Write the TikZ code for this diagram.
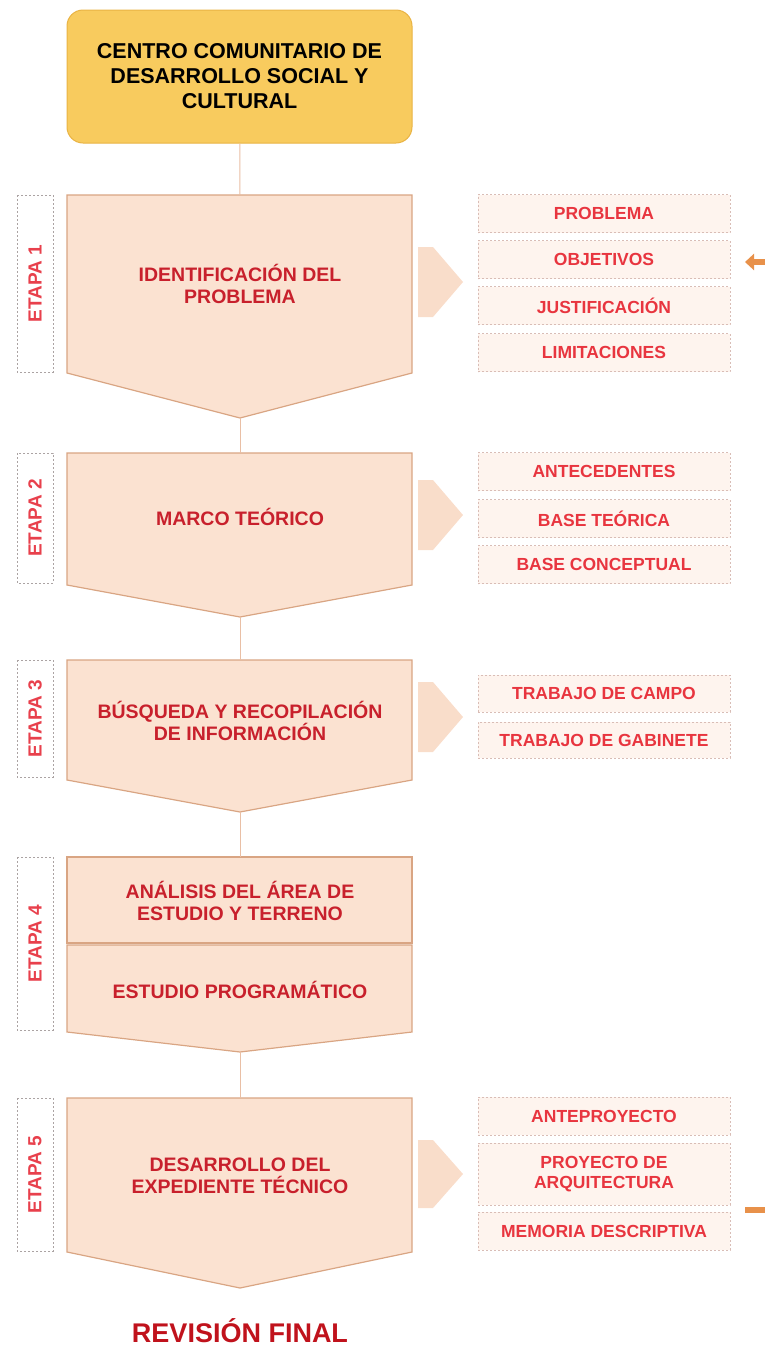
\documentclass[tikz,border=0pt]{standalone}
\usepackage{fontspec}
\setmainfont{Liberation Sans}
\usetikzlibrary{arrows.meta}

\definecolor{titlefill}{HTML}{F8CB5E}
\definecolor{titleedge}{HTML}{E9B343}
\definecolor{stagefill}{HTML}{FBE2D1}
\definecolor{stageedge}{HTML}{D9A583}
\definecolor{chevfill}{HTML}{F9DDCA}
\definecolor{itemfill}{HTML}{FEF4EE}
\definecolor{itemedge}{HTML}{D9BDB6}
\definecolor{etapaedge}{HTML}{ABA3A3}
\definecolor{stagered}{HTML}{C8202C}
\definecolor{itemred}{HTML}{E8353F}
\definecolor{etapared}{HTML}{E8404C}
\definecolor{linkcol}{HTML}{E9BFA5}
\definecolor{finalred}{HTML}{C0121C}
\definecolor{fbcol}{HTML}{E8914A}

\begin{document}
\begin{tikzpicture}[
    x=1pt, y=-1pt,
    titlebox/.style={rectangle, rounded corners=16pt, draw=titleedge, fill=titlefill,
        line width=1pt, minimum width=345pt, minimum height=133pt, align=center,
        font=\fontsize{21.5}{25}\selectfont\bfseries},
    stagebox/.style={draw=stageedge, fill=stagefill, line width=1.2pt},
    stagetext/.style={align=center, text=stagered,
        font=\fontsize{19.5}{22}\selectfont\bfseries},
    etapa/.style={draw=etapaedge, line width=1pt, dash pattern=on 2pt off 2pt,
        minimum height=36pt, rotate=90, text=etapared,
        font=\fontsize{19}{22}\selectfont\bfseries},
    itembox/.style={draw=itemedge, fill=itemfill, line width=1pt,
        dash pattern=on 2pt off 2pt, minimum width=252pt, minimum height=38pt,
        align=center, text=itemred, font=\fontsize{17.5}{20}\selectfont\bfseries},
    chevron/.style={fill=chevfill},
    link/.style={draw=linkcol, line width=1pt},
    feedback/.style={draw=fbcol, line width=6pt}
]
    \useasboundingbox (0,0) rectangle (765,1347);

    % title
    \node[titlebox] (title) at (239.5,76.5) {CENTRO COMUNITARIO DE\\DESARROLLO SOCIAL Y\\CULTURAL};

    % stage 1
    \draw[stagebox] (67,195) -- (412,195) -- (412,373) -- (240,418) -- (67,373) -- cycle;
    \coordinate (s1top) at (240,195);
    \coordinate (s1tip) at (240,418);
    \node[stagetext] (s1) at (240,284) {IDENTIFICACIÓN DEL\\PROBLEMA};
    \node[etapa, minimum width=177pt] (e1) at (35,283.5) {ETAPA 1};
    \fill[chevron] (418,247) -- (433,247) -- (463,282) -- (433,317) -- (418,317) -- cycle;
    \node[itembox] (problema) at (604,213.5) {PROBLEMA};
    \node[itembox] (objetivos) at (604,259.5) {OBJETIVOS};
    \node[itembox] (justif) at (604,305.5) {JUSTIFICACIÓN};
    \node[itembox] (limit) at (604,352.5) {LIMITACIONES};

    % stage 2
    \draw[stagebox] (67,453) -- (412,453) -- (412,585) -- (240,617) -- (67,585) -- cycle;
    \coordinate (s2top) at (240,453);
    \coordinate (s2tip) at (240,617);
    \node[stagetext] (s2) at (240,517) {MARCO TEÓRICO};
    \node[etapa, minimum width=130pt] (e2) at (35,518) {ETAPA 2};
    \fill[chevron] (418,480) -- (433,480) -- (463,515) -- (433,550) -- (418,550) -- cycle;
    \node[itembox] (antec) at (604,471.5) {ANTECEDENTES};
    \node[itembox] (baseteo) at (604,518.5) {BASE TEÓRICA};
    \node[itembox] (basecon) at (604,564.5) {BASE CONCEPTUAL};

    % stage 3
    \draw[stagebox] (67,660) -- (412,660) -- (412,780) -- (240,812) -- (67,780) -- cycle;
    \coordinate (s3top) at (240,660);
    \coordinate (s3tip) at (240,812);
    \node[stagetext] (s3) at (240,721) {BÚSQUEDA Y RECOPILACIÓN\\DE INFORMACIÓN};
    \node[etapa, minimum width=117pt] (e3) at (35,718.5) {ETAPA 3};
    \fill[chevron] (418,682) -- (433,682) -- (463,717) -- (433,752) -- (418,752) -- cycle;
    \node[itembox, minimum height=37pt] (campo) at (604,693.5) {TRABAJO DE CAMPO};
    \node[itembox, minimum height=36pt] (gabinete) at (604,740) {TRABAJO DE GABINETE};

    % stage 4
    \draw[stagebox] (67,857) rectangle (412,943);
    \draw[stagebox] (67,945) -- (412,945) -- (412,1032) -- (240,1052) -- (67,1032) -- cycle;
    \coordinate (s4top) at (240,857);
    \coordinate (s4tip) at (240,1052);
    \node[stagetext] (s4a) at (240,901) {ANÁLISIS DEL ÁREA DE\\ESTUDIO Y TERRENO};
    \node[stagetext] (s4b) at (240,990) {ESTUDIO PROGRAMÁTICO};
    \node[etapa, minimum width=173pt] (e4) at (35,943.5) {ETAPA 4};

    % stage 5
    \draw[stagebox] (67,1098) -- (412,1098) -- (412,1252) -- (240,1288) -- (67,1252) -- cycle;
    \coordinate (s5top) at (240,1098);
    \node[stagetext] (s5) at (240,1176) {DESARROLLO DEL\\EXPEDIENTE TÉCNICO};
    \node[etapa, minimum width=153pt] (e5) at (35,1174.5) {ETAPA 5};
    \fill[chevron] (418,1140) -- (433,1140) -- (463,1174) -- (433,1208) -- (418,1208) -- cycle;
    \node[itembox] (antep) at (604,1116) {ANTEPROYECTO};
    \node[itembox, minimum height=62pt] (proyarq) at (604,1174) {PROYECTO DE\\ARQUITECTURA};
    \node[itembox] (memoria) at (604,1231) {MEMORIA DESCRIPTIVA};

    \node[text=finalred, font=\fontsize{27}{30}\selectfont\bfseries] (final) at (240,1331) {REVISIÓN FINAL};

    % connectors
    \draw[link] (title) -- (s1top);
    \draw[link] (s1tip) -- (s2top);
    \draw[link] (s2tip) -- (s3top);
    \draw[link] (s3tip) -- (s4top);
    \draw[link] (s4tip) -- (s5top);

    % feedback
    \coordinate (fbin) at (765,262);
    \coordinate (fbend) at (745,262);
    \coordinate (fbstart) at (745,1210);
    \coordinate (fbout) at (765,1210);
    \draw[feedback, -{Triangle[length=9pt, width=16pt]}] (fbin) -- (fbend);
    \draw[feedback] (fbstart) -- (fbout);
\end{tikzpicture}
\end{document}
